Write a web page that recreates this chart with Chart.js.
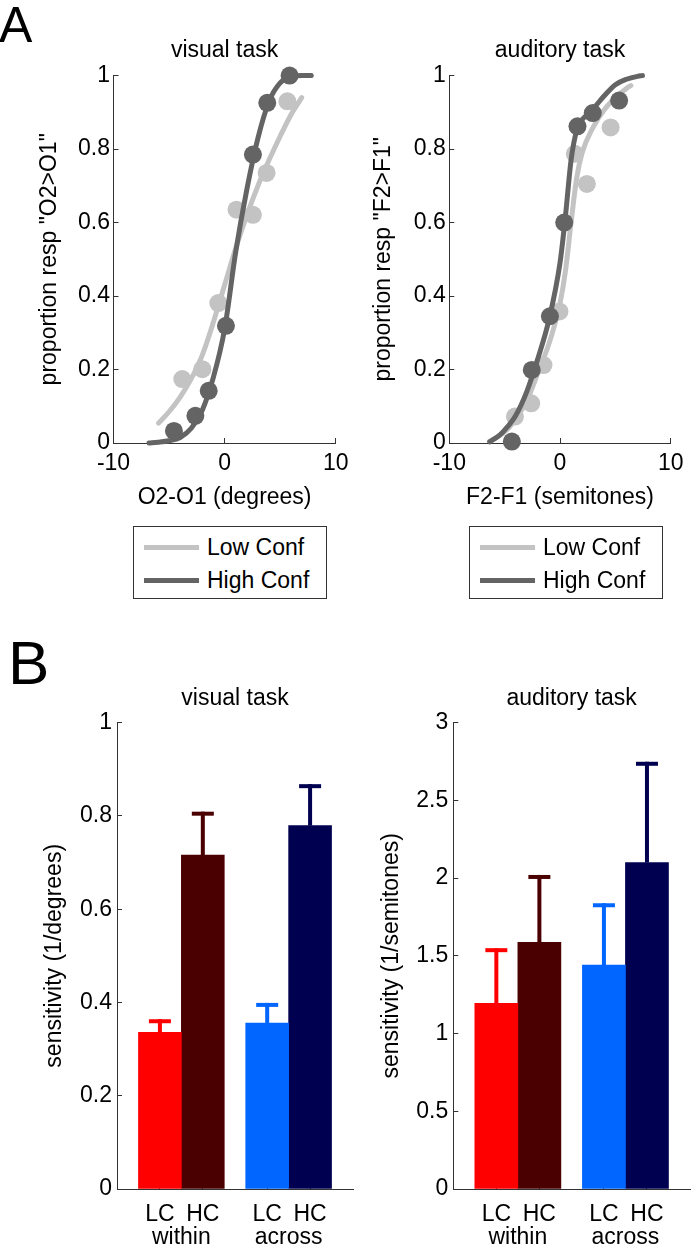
<!DOCTYPE html>
<html>
<head>
<meta charset="utf-8">
<script src="https://cdn.jsdelivr.net/npm/chart.js@4.4.1/dist/chart.umd.min.js"></script>
<style>
  body { margin: 0; background: #fff; }
  #page { position: relative; width: 695px; height: 1245px; overflow: hidden; font-family: "Liberation Sans", Arial, sans-serif; }
  canvas { position: absolute; }
  .letter { position: absolute; line-height: 1; color: #000; }
  .legend { position: absolute; border: 1px solid #333; box-sizing: border-box; background: #fff; }
  .legend .item { position: absolute; left: 0; height: 33px; width: 100%; }
  .legend .swatch { position: absolute; left: 10px; top: 14px; width: 55px; height: 5px; }
  .legend .txt { position: absolute; left: 73px; top: 3px; font-size: 23px; line-height: 27px; color: #000; }
</style>
</head>
<body>
<div id="page">
  <div class="letter" style="left:-1px; top:0px; font-size:50px;">A</div>
  <div class="letter" style="left:8px; top:632px; font-size:62px;">B</div>

  <canvas id="visPsy" width="360" height="520" style="left:0px; top:0px;"></canvas>
  <canvas id="audPsy" width="350" height="520" style="left:345px; top:0px;"></canvas>
  <div id="visLegend" class="legend" style="left:133px; top:526px; width:194px; height:73px;"></div>
  <div id="audLegend" class="legend" style="left:469px; top:526px; width:194px; height:73px;"></div>

  <canvas id="visBar" width="360" height="605" style="left:0px; top:640px;"></canvas>
  <canvas id="audBar" width="350" height="605" style="left:345px; top:640px;"></canvas>
</div>

<script>
// ---- panel A : psychometric data ----
const psyXTicks = [-10, 0, 10];
const psyYTicks = [0, 0.2, 0.4, 0.6, 0.8, 1];
const psyYLabels = ['0', '0.2', '0.4', '0.6', '0.8', '1'];

// visual task
const visLowX  = [-3.81, -2.0, -0.57, 1.07, 2.55, 3.78, 5.65];
const visLowY  = [0.174, 0.201, 0.381, 0.635, 0.621, 0.735, 0.930];
const visHighX = [-4.56, -2.63, -1.43, 0.12, 2.55, 3.84, 5.85];
const visHighY = [0.033, 0.074, 0.142, 0.319, 0.785, 0.926, 1.0];
const visLowFitX  = [-5.95, -5, -4, -3, -2, -1, 0, 1, 2, 3, 4, 5, 6, 6.94];
const visLowFitY  = [0.054, 0.085, 0.125, 0.175, 0.24, 0.33, 0.43, 0.53, 0.62, 0.70, 0.77, 0.835, 0.895, 0.94];
const visHighFitX = [-6.8, -6, -5, -4, -3, -2, -1, 0, 1, 2, 3, 4, 5, 6, 7, 7.8];
const visHighFitY = [0, 0.002, 0.006, 0.015, 0.04, 0.09, 0.18, 0.31, 0.52, 0.69, 0.83, 0.93, 0.98, 0.997, 1.0, 1.0];

// auditory task
const audLowX  = [-4.07, -2.6, -1.49, -0.05, 1.34, 2.43, 4.57];
const audLowY  = [0.072, 0.108, 0.212, 0.358, 0.787, 0.705, 0.859];
const audHighX = [-4.35, -2.55, -0.91, 0.38, 1.58, 2.96, 5.34];
const audHighY = [0.004, 0.199, 0.345, 0.600, 0.862, 0.898, 0.932];
const audLowFitX  = [-6.35, -5, -4, -3, -2, -1, -0.5, 0, 0.5, 1, 1.5, 2, 3, 4, 5, 6, 6.4];
const audLowFitY  = [0.005, 0.03, 0.065, 0.115, 0.19, 0.27, 0.32, 0.38, 0.47, 0.60, 0.72, 0.79, 0.86, 0.907, 0.94, 0.965, 0.973];
const audHighFitX = [-6.35, -5.5, -5, -4, -3, -2, -1, 0, 0.5, 1, 1.5, 2, 2.5, 3, 4, 5, 6, 7, 7.45];
const audHighFitY = [0.003, 0.02, 0.035, 0.075, 0.14, 0.23, 0.335, 0.49, 0.62, 0.77, 0.85, 0.88, 0.895, 0.91, 0.945, 0.975, 0.99, 0.998, 1.0];

// ---- panel B : sensitivity bars ----
const groups = ['within', 'across'];
const groupX = [1, 2];
const barTickX = [0.8, 1, 1.2, 1.8, 2, 2.2];
const barTickLabels = ['LC', ['', 'within'], 'HC', 'LC', ['', 'across'], 'HC'];
const barTickMark = [true, false, true, true, false, true];

const visLC = [0.336, 0.356];
const visLCErr = [0.028, 0.043];
const visHC = [0.716, 0.779];
const visHCErr = [0.093, 0.089];
const visYTicks = [0, 0.2, 0.4, 0.6, 0.8, 1];
const visYLabels = ['0', '0.2', '0.4', '0.6', '0.8', '1'];

const audLC = [1.195, 1.44];
const audLCErr = [0.354, 0.398];
const audHC = [1.587, 2.10];
const audHCErr = [0.433, 0.648];
const audYTicks = [0, 0.5, 1, 1.5, 2, 2.5, 3];
const audYLabels = ['0', '0.5', '1', '1.5', '2', '2.5', '3'];

const LIGHT = '#c3c3c3';
const DARK = '#646464';
const AXIS = '#333333';
const LC_COLORS = ['#ff0000', '#0066ff'];
const HC_COLORS = ['#4a0000', '#000050'];

Chart.defaults.font.family = "'Liberation Sans', Arial, sans-serif";
Chart.defaults.font.size = 23;
Chart.defaults.color = '#000';
Chart.defaults.animation = false;
Chart.defaults.plugins.legend.display = false;
Chart.defaults.plugins.tooltip.enabled = false;

const pts = (xs, ys) => xs.map((x, i) => ({x: x, y: ys[i]}));

// legend drawn as a boxed html list from the curve datasets
const htmlLegend = {
  id: 'htmlLegend',
  afterUpdate(chart, args, opts) {
    const box = document.getElementById(opts.containerID);
    if (!box) return;
    box.innerHTML = '';
    chart.data.datasets.filter(d => d.showLine).forEach((d, i) => {
      const item = document.createElement('div');
      item.className = 'item';
      item.style.top = (4 + i * 33) + 'px';
      const sw = document.createElement('div');
      sw.className = 'swatch';
      sw.style.background = d.borderColor;
      const t = document.createElement('div');
      t.className = 'txt';
      t.textContent = d.label;
      item.appendChild(sw);
      item.appendChild(t);
      box.appendChild(item);
    });
  }
};

// one-sided error bars on top of the bars
const errorBars = {
  id: 'errorBars',
  afterDatasetsDraw(chart) {
    const ctx = chart.ctx;
    const yScale = chart.scales.y;
    chart.data.datasets.forEach((ds, di) => {
      const meta = chart.getDatasetMeta(di);
      meta.data.forEach((bar, i) => {
        const top = yScale.getPixelForValue(ds.data[i].y + ds.errors[i]);
        const col = ds.backgroundColor[i];
        ctx.save();
        ctx.strokeStyle = col;
        ctx.lineWidth = 4;
        ctx.beginPath();
        ctx.moveTo(bar.x, bar.y);
        ctx.lineTo(bar.x, top);
        ctx.stroke();
        ctx.beginPath();
        ctx.moveTo(bar.x - 11, top + 2);
        ctx.lineTo(bar.x + 11, top + 2);
        ctx.stroke();
        ctx.restore();
      });
    });
  }
};

function psyChart(id, title, xTitle, yTitle, d, yAxisW, yTitlePad, padRight, legendId) {
  return new Chart(document.getElementById(id), {
    type: 'scatter',
    data: {
      datasets: [
        {label: 'High Conf pts', data: pts(d.hx, d.hy), showLine: false, pointRadius: 9,
         backgroundColor: DARK, borderWidth: 0, order: 0, clip: false},
        {label: 'High Conf', data: pts(d.hfx, d.hfy), showLine: true, pointRadius: 0,
         borderColor: DARK, borderWidth: 5, cubicInterpolationMode: 'monotone',
         borderCapStyle: 'round', order: 1, clip: false},
        {label: 'Low Conf pts', data: pts(d.lx, d.ly), showLine: false, pointRadius: 9,
         backgroundColor: LIGHT, borderWidth: 0, order: 2, clip: false},
        {label: 'Low Conf', data: pts(d.lfx, d.lfy), showLine: true, pointRadius: 0,
         borderColor: LIGHT, borderWidth: 5, cubicInterpolationMode: 'monotone',
         borderCapStyle: 'round', order: 3, clip: false}
      ].reverse()
    },
    options: {
      responsive: false,
      layout: {padding: {left: 0, right: padRight, top: 0, bottom: 0}},
      plugins: {
        title: {display: true, fullSize: false, text: title, color: '#000',
                font: {size: 23, weight: 'normal'}, padding: {top: 37, bottom: 11}},
        htmlLegend: {containerID: legendId}
      },
      scales: {
        x: {
          type: 'linear', min: -10, max: 10,
          afterBuildTicks: s => { s.ticks = psyXTicks.map(v => ({value: v})); },
          afterFit: s => { s.height = 77; },
          ticks: {padding: 11.5, callback: v => String(v), maxRotation: 0},
          border: {color: AXIS, width: 1},
          grid: {drawOnChartArea: false, tickLength: -5, color: AXIS},
          title: {display: true, text: xTitle, padding: {top: 0, bottom: 9}}
        },
        y: {
          min: 0, max: 1,
          afterBuildTicks: s => { s.ticks = psyYTicks.map(v => ({value: v})); },
          afterFit: s => { s.width = yAxisW; },
          ticks: {padding: 8.5, callback: (v, i) => psyYLabels[i]},
          border: {color: AXIS, width: 1},
          grid: {drawOnChartArea: false, tickLength: -5, color: AXIS},
          title: {display: true, text: yTitle, padding: {top: yTitlePad, bottom: 0}}
        }
      }
    },
    plugins: [htmlLegend]
  });
}

function barChart(id, title, yTitle, lc, lcErr, hc, hcErr, yMax, yTicks, yLabels, yAxisW, yTitlePad, padRight) {
  return new Chart(document.getElementById(id), {
    type: 'bar',
    data: {
      datasets: [
        {label: 'LC', data: pts(groupX, lc), errors: lcErr, backgroundColor: LC_COLORS,
         borderWidth: 0, barThickness: 'flex', categoryPercentage: 0.8, barPercentage: 1},
        {label: 'HC', data: pts(groupX, hc), errors: hcErr, backgroundColor: HC_COLORS,
         borderWidth: 0, barThickness: 'flex', categoryPercentage: 0.8, barPercentage: 1}
      ]
    },
    options: {
      responsive: false,
      layout: {padding: {left: 0, right: padRight, top: 0, bottom: 0}},
      plugins: {
        title: {display: true, fullSize: false, text: title, color: '#000',
                font: {size: 23, weight: 'normal'}, padding: {top: 45, bottom: 10}}
      },
      scales: {
        x: {
          type: 'linear', min: 0.4, max: 2.6, offset: false, z: 1,
          afterBuildTicks: s => { s.ticks = barTickX.map(v => ({value: v})); },
          afterFit: s => { s.height = 56; },
          ticks: {padding: 19.5, font: {size: 23, lineHeight: 1}, autoSkip: false, maxRotation: 0,
                  callback: (v, i) => barTickLabels[i]},
          border: {color: AXIS, width: 1},
          grid: {drawOnChartArea: false, offset: false, tickLength: -5,
                 tickColor: c => barTickMark[c.index] ? AXIS : 'rgba(0,0,0,0)'}
        },
        y: {
          min: 0, max: yMax,
          afterBuildTicks: s => { s.ticks = yTicks.map(v => ({value: v})); },
          afterFit: s => { s.width = yAxisW; },
          ticks: {padding: 10, callback: (v, i) => yLabels[i]},
          border: {color: AXIS, width: 1},
          grid: {drawOnChartArea: false, tickLength: -5, color: AXIS},
          title: {display: true, text: yTitle, padding: {top: yTitlePad, bottom: 0}}
        }
      }
    },
    plugins: [errorBars]
  });
}

psyChart('visPsy', 'visual task', 'O2-O1 (degrees)', 'proportion resp "O2>O1"',
  {hx: visHighX, hy: visHighY, hfx: visHighFitX, hfy: visHighFitY,
   lx: visLowX, ly: visLowY, lfx: visLowFitX, lfy: visLowFitY},
  113.5, 36, 14, 'visLegend');
psyChart('audPsy', 'auditory task', 'F2-F1 (semitones)', 'proportion resp "F2>F1"',
  {hx: audHighX, hy: audHighY, hfx: audHighFitX, hfy: audHighFitY,
   lx: audLowX, ly: audLowY, lfx: audLowFitX, lfy: audLowFitY},
  104.3, 24.5, 13, 'audLegend');

barChart('visBar', 'visual task', 'sensitivity (1/degrees)', visLC, visLCErr, visHC, visHCErr,
  1, visYTicks, visYLabels, 117, 41, 7);
barChart('audBar', 'auditory task', 'sensitivity (1/semitones)', audLC, audLCErr, audHC, audHCErr,
  3, audYTicks, audYLabels, 108.3, 32.5, 5);
</script>
</body>
</html>
